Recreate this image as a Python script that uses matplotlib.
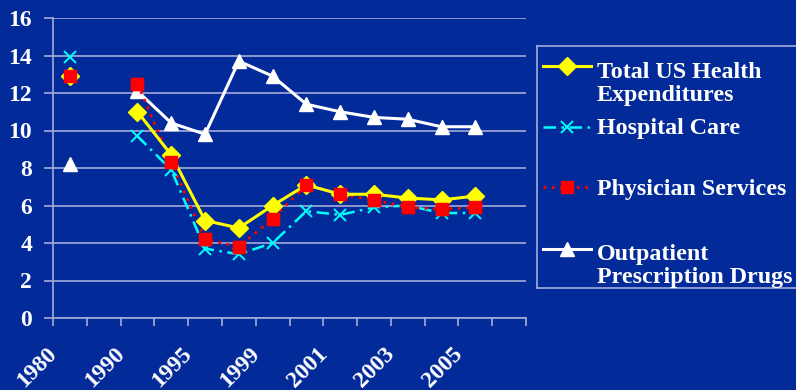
import numpy as np
import matplotlib
matplotlib.use("Agg")
import matplotlib.pyplot as plt
from matplotlib.lines import Line2D
from matplotlib.transforms import ScaledTranslation

# Annual growth (%) by category; slot 1 has no data
years = ["1980", "1985", "1990", "1993", "1995", "1997", "1999", "2000",
         "2001", "2002", "2003", "2004", "2005", "2006"]
shown_years = {"1980", "1990", "1995", "1999", "2001", "2003", "2005"}

total_us = [12.9, np.nan, 11.0, 8.7, 5.2, 4.8, 6.0, 7.1, 6.6, 6.6, 6.4, 6.3, 6.5]
hospital = [13.9, np.nan, 9.7, 7.9, 3.7, 3.4, 4.0, 5.7, 5.5, 5.9, 6.0, 5.6, 5.6]
physician = [12.9, np.nan, 12.5, 8.3, 4.2, 3.8, 5.3, 7.1, 6.6, 6.3, 5.9, 5.8, 5.9]
outpatient_rx = [8.2, np.nan, 12.1, 10.4, 9.8, 13.7, 12.9, 11.4, 11.0, 10.7, 10.6, 10.2, 10.2]

labels = ["Total US Health\nExpenditures", "Hospital Care",
          "Physician Services", "Outpatient\nPrescription Drugs"]

bg = "#022a98"
grid_c = "#a3acd8"
font = "Liberation Serif"

fig = plt.figure(figsize=(7.96, 3.90), dpi=100, facecolor=bg)
ax = fig.add_axes([53 / 796, 72 / 390, 473 / 796, 300 / 390], facecolor=bg)

x = np.arange(len(total_us))

styles = [
    dict(color="#ffff00", lw=2.2, ls="-", marker="D", ms=9, mec="#ffff00"),
    dict(color="#00ffff", lw=1.8, ls=(0, (5, 2.2, 1, 2.2)), marker="x", ms=8, mew=1.4),
    dict(color="#ff0000", lw=2.0, ls=(0, (1, 2)), marker="s", ms=8, mec="#ff0000"),
    dict(color="#ffffff", lw=2.2, ls="-", marker="^", ms=10.5, mec="#ffffff"),
]
series = [total_us, hospital, physician, outpatient_rx]
order = [3, 1, 2, 0]
for i in order:
    ax.plot(x, series[i], zorder=3 + (i == 2) + 2 * (i == 0), **styles[i])
# red squares sit on top of the yellow line
ax.plot(x, physician, ls="none", marker="s", ms=8, color="#ff0000", zorder=6)

ax.set_xlim(-0.5, 13.5)
ax.set_ylim(0, 16)
ax.set_yticks(np.arange(0, 17, 2))
ax.grid(axis="y", color=grid_c, lw=1.2)
ax.set_axisbelow(True)

for s in ["top", "right"]:
    ax.spines[s].set_visible(False)
for s in ["left", "bottom"]:
    ax.spines[s].set_color(grid_c)
    ax.spines[s].set_linewidth(1.2)

ax.tick_params(axis="y", colors=grid_c, length=6.5, width=1.2, pad=8.5)
for lab in ax.get_yticklabels():
    lab.set_color("white")
    lab.set_fontfamily(font)
    lab.set_fontweight("bold")
    lab.set_fontsize(17)

# category boundaries carry the tick marks, centres carry the labels
ax.set_xticks(np.arange(-0.5, 14, 1))
ax.set_xticklabels([])
ax.tick_params(axis="x", which="major", colors=grid_c, length=6, width=1.2)
ax.set_xticks(np.arange(len(years)), minor=True)
ax.set_xticklabels([y if y in shown_years else "" for y in years], minor=True)
ax.tick_params(axis="x", which="minor", length=0, pad=23.5)
offset = ScaledTranslation(-0.16, 0, fig.dpi_scale_trans)
for lab in ax.get_xticklabels(minor=True):
    lab.set_rotation(45)
    lab.set_rotation_mode("anchor")
    lab.set_ha("right")
    lab.set_va("center")
    lab.set_color("white")
    lab.set_fontfamily(font)
    lab.set_fontweight("bold")
    lab.set_fontsize(17)
    lab.set_transform(lab.get_transform() + offset)

# legend box drawn as its own panel
lax = fig.add_axes([537 / 796, 102 / 390, 270 / 796, 242 / 390], facecolor=bg)
lax.set_xlim(0, 270)
lax.set_ylim(242, 0)
lax.set_xticks([])
lax.set_yticks([])
for s in lax.spines.values():
    s.set_color(grid_c)
    s.set_linewidth(1.2)

handle_y = [20, 81, 141, 203]
text_base = [55, 88, 149, 237]   # baseline of each label's last line
for i, yy in enumerate(handle_y):
    st = dict(styles[i])
    mk = st.pop("marker")
    ms = st.pop("ms")
    lax.add_line(Line2D([6, 54], [yy, yy], **{k: v for k, v in st.items() if k not in ("mec", "mew")}))
    lax.plot([30], [yy], marker=mk, ms=ms, color=st["color"],
             mew=st.get("mew", 1), ls="none")
    lax.text(60, text_base[i], labels[i], color="white", fontfamily=font,
             fontweight="bold", fontsize=17.3, va="baseline", ha="left",
             linespacing=1.15)

fig.savefig("out.png", dpi=100, facecolor=bg)
